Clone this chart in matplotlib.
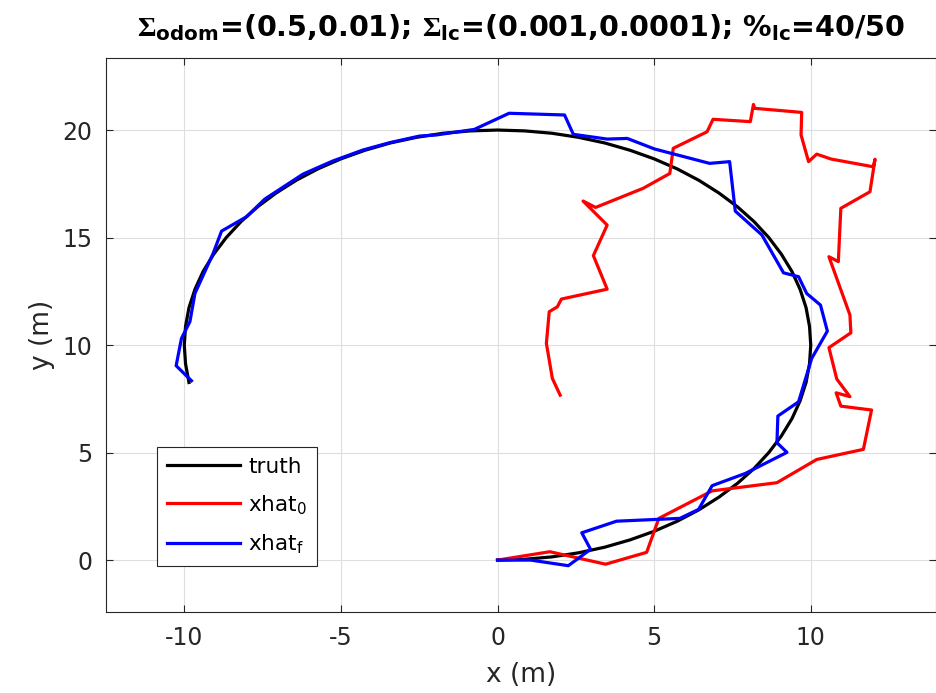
import matplotlib
matplotlib.use('Agg')
import matplotlib.pyplot as plt

plt.rcParams['font.family'] = 'DejaVu Sans'
plt.rcParams['axes.unicode_minus'] = False
plt.rcParams['mathtext.fontset'] = 'custom'
plt.rcParams['mathtext.rm'] = 'DejaVu Sans'
plt.rcParams['mathtext.bf'] = 'DejaVu Sans:bold'
plt.rcParams['mathtext.sf'] = 'Liberation Serif:bold'

# ground truth trajectory
truth_x = [0.00, 0.87, 1.74, 2.59, 3.42, 4.23, 5.00, 5.74, 6.43, 7.07, 7.66, 8.19, 8.66,
           9.06, 9.40, 9.66, 9.85, 9.96, 10.00, 9.96, 9.85, 9.66, 9.40, 9.06, 8.66, 8.19,
           7.66, 7.07, 6.43, 5.74, 5.00, 4.23, 3.42, 2.59, 1.74, 0.87, 0.00, -0.87, -1.74,
           -2.59, -3.42, -4.23, -5.00, -5.74, -6.43, -7.07, -7.66, -8.19, -8.66, -9.06,
           -9.40, -9.66, -9.85, -9.96, -10.00, -9.96, -9.85]
truth_y = [0.00, 0.04, 0.15, 0.34, 0.60, 0.94, 1.34, 1.81, 2.34, 2.93, 3.57, 4.26, 5.00,
           5.77, 6.58, 7.41, 8.26, 9.13, 10.00, 10.87, 11.74, 12.59, 13.42, 14.23, 15.00,
           15.74, 16.43, 17.07, 17.66, 18.19, 18.66, 19.06, 19.40, 19.66, 19.85, 19.96,
           20.00, 19.96, 19.85, 19.66, 19.40, 19.06, 18.66, 18.19, 17.66, 17.07, 16.43,
           15.74, 15.00, 14.23, 13.42, 12.59, 11.74, 10.87, 10.00, 9.13, 8.26]

# initial estimate (odometry only)
x0_x = [0, 1.67, 3.45, 4.76, 5.15, 6.85, 8.92, 10.19, 11.68, 11.94, 10.96, 10.81, 11.25,
        10.83, 10.58, 11.28, 11.25, 10.58, 10.88, 10.96, 11.89, 12.05, 12.00, 10.65, 10.19,
        9.93, 9.69, 9.71, 8.21, 8.17, 8.07, 6.88, 6.69, 5.61, 5.50, 4.65, 3.13, 2.73, 3.50,
        3.06, 3.50, 2.04, 1.91, 1.65, 1.56, 1.75, 2.00]
x0_y = [0, 0.39, -0.19, 0.36, 1.94, 3.22, 3.60, 4.68, 5.15, 6.98, 7.16, 7.78, 7.60,
        8.42, 9.88, 10.57, 11.40, 14.11, 13.88, 16.36, 17.13, 18.64, 18.29, 18.65, 18.88,
        18.53, 19.77, 20.82, 21.01, 21.19, 20.39, 20.50, 19.92, 19.15, 17.98, 17.29, 16.40,
        16.70, 15.58, 14.16, 12.60, 12.14, 11.78, 11.55, 10.08, 8.45, 7.67]

# final estimate (after loop closures)
xf_x = [0, 1.06, 2.26, 2.97, 2.69, 3.80, 5.82, 6.42, 6.85, 7.91, 9.24, 8.92, 8.95, 9.61,
        10.03, 10.53, 10.31, 9.87, 9.61, 9.13, 8.44, 7.59, 7.41, 6.77, 5.01, 4.14, 3.50,
        2.42, 2.14, 0.37, -0.74, -1.96, -2.49, -3.45, -4.30, -5.26, -6.21, -7.43, -8.01,
        -8.81, -9.08, -9.66, -9.82, -10.09, -10.26, -9.77]
xf_y = [0, 0, -0.26, 0.50, 1.27, 1.81, 1.94, 2.36, 3.46, 4.03, 5.01, 5.46, 6.70, 7.36,
        9.38, 10.65, 11.86, 12.40, 13.18, 13.36, 15.12, 16.23, 18.53, 18.45, 19.12, 19.61,
        19.58, 19.80, 20.70, 20.78, 20.03, 19.77, 19.72, 19.41, 19.07, 18.56, 17.95, 16.79,
        15.97, 15.30, 14.26, 12.40, 11.09, 10.31, 9.04, 8.34]

fig = plt.figure(figsize=(9.37, 6.93), dpi=100)
ax = fig.add_axes([0.1131, 0.1173, 0.8859, 0.799])

ax.plot(truth_x, truth_y, color='k', lw=2.3, label='truth')
ax.plot(x0_x, x0_y, color='r', lw=2.3, label='xhat$_0$')
ax.plot(xf_x, xf_y, color='b', lw=2.3, label='xhat$_\\mathrm{f}$')

ax.set_xlim(-12.5, 14.0)
ax.set_ylim(-2.4, 23.35)
ax.set_xticks([-10, -5, 0, 5, 10])
ax.set_yticks([0, 5, 10, 15, 20])
ax.grid(True, color='#dedede', lw=0.8)
ax.set_axisbelow(True)
ax.tick_params(direction='in', length=5, width=0.8, top=True, right=True,
               labelsize=17, colors='#262626', pad=10)
for s in ax.spines.values():
    s.set_color('#262626')
    s.set_linewidth(0.8)

ax.set_xlabel('x (m)', fontsize=19, color='#262626', labelpad=9)
ax.set_ylabel('y (m)', fontsize=19, color='#262626', labelpad=5)
ax.set_title(r'$\mathsf{\Sigma}_{\mathbf{odom}}$=(0.5,0.01); '
             r'$\mathsf{\Sigma}_{\mathbf{lc}}$=(0.001,0.0001); '
             r'$\mathbf{\%}_{\mathbf{lc}}$=40/50',
             fontsize=20.5, fontweight='bold', pad=16)

leg = ax.legend(loc='lower left', bbox_to_anchor=(0.0614, 0.0825), borderaxespad=0,
                fontsize=15.5, fancybox=False, framealpha=1, edgecolor='#262626',
                handlelength=3.4, handletextpad=0.4, borderpad=0.45, labelspacing=0.75)
leg.get_frame().set_linewidth(0.8)

plt.savefig('out.png', dpi=100)
